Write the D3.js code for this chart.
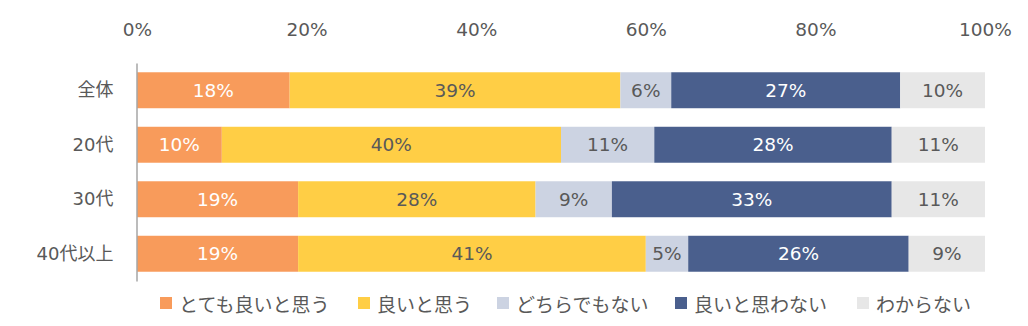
<!DOCTYPE html>
<html><head><meta charset="utf-8">
<script src="https://cdn.jsdelivr.net/npm/d3@7"></script>
<style>body{margin:0;background:#fff;} svg{display:block;font-family:"DejaVu Sans","Noto Sans CJK JP",sans-serif;}</style>
</head><body><svg id="c" width="1028" height="326"></svg>
<script>
const categories = ["全体","20代","30代","40代以上"];
const seriesNames = ["とても良いと思う","良いと思う","どちらでもない","良いと思わない","わからない"];
const veryGood = [18,10,19,19];
const good = [39,40,28,41];
const neutral = [6,11,9,5];
const notGood = [27,28,33,26];
const unknown = [10,11,11,9];
const tickLabels = ["0%","20%","40%","60%","80%","100%"];
const tickValues = [0,20,40,60,80,100];

const colors = ["#F89B5B","#FFCE45","#CCD3E2","#4A5F8D","#E7E7E7"];
const textColors = ["#fff","#595959","#595959","#fff","#595959"];
const seriesVals = [veryGood,good,neutral,notGood,unknown];
const FONT = "'DejaVu Sans','Noto Sans CJK JP',sans-serif";

const svg = d3.select("#c");
const x = d3.scaleLinear().domain([0,100]).range([137,985]);
const y = d3.scaleBand().domain(categories).range([63,281]).paddingInner(0.34).paddingOuter(0.17);

const rows = categories.map((c,i)=>{
  let acc=0;
  return seriesVals.map((s,j)=>{const v=s[i]; const r={cat:c,j,v,x0:acc,x1:acc+v}; acc+=v; return r;});
});
const segs = rows.flat();

svg.append("g").selectAll("rect").data(segs).join("rect")
  .attr("x",d=>x(d.x0)).attr("y",d=>y(d.cat))
  .attr("width",d=>x(d.x1)-x(d.x0)).attr("height",y.bandwidth())
  .attr("fill",d=>colors[d.j]);

svg.append("g").selectAll("text").data(segs).join("text")
  .attr("x",d=>(x(d.x0)+x(d.x1))/2).attr("y",d=>y(d.cat)+y.bandwidth()/2)
  .attr("text-anchor","middle").attr("dominant-baseline","central")
  .attr("font-size",18.5).attr("fill",d=>textColors[d.j])
  .text(d=>d.v+"%");

// top axis
const ax = svg.append("g").attr("transform","translate(0,30)")
  .call(d3.axisTop(x).tickValues(tickValues).tickFormat((d,i)=>tickLabels[i]).tickSize(0).tickPadding(0));
ax.select(".domain").remove();
ax.selectAll("text").attr("font-size",18.5).attr("fill","#595959").attr("y",0).attr("dy","0.35em")
  .style("font-family",FONT);

// left axis
const ay = svg.append("g").attr("transform","translate(136.5,0)")
  .call(d3.axisLeft(y).tickSize(0).tickPadding(23));
ay.select(".domain").attr("stroke","#A6A6A6").attr("stroke-width",1.5);
ay.selectAll("text").attr("font-size",18).attr("fill","#595959")
  .style("font-family",FONT);

// legend
const legendX = [160,358,497,675,857];
const lg = svg.append("g").selectAll("g").data(seriesNames).join("g")
  .attr("transform",(d,i)=>`translate(${legendX[i]},303)`);
lg.append("rect").attr("x",0).attr("y",-6).attr("width",12).attr("height",12).attr("fill",(d,i)=>colors[i]);
lg.append("text").attr("x",19).attr("y",0).attr("dominant-baseline","central")
  .attr("font-size",19).attr("fill","#595959").style("font-family","'Noto Sans CJK JP',sans-serif").text(d=>d);
</script></body></html>
